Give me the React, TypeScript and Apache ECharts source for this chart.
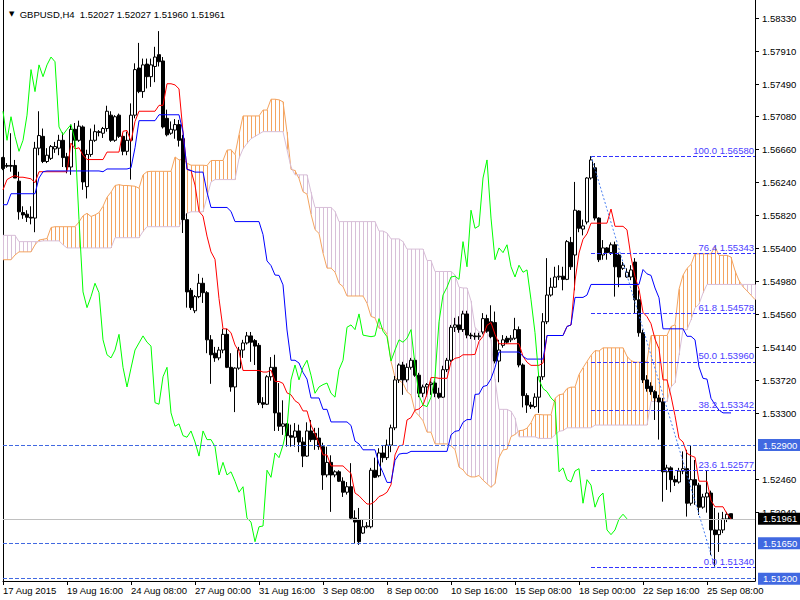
import React, { useEffect, useRef } from "react";
import * as echarts from "echarts";

// ---------- data ----------
const symbolName = "GBPUSD,H4";
const xTickLabels = [
  "17 Aug 2015", "19 Aug 16:00", "24 Aug 08:00", "27 Aug 00:00", "31 Aug 16:00", "3 Sep 08:00",
  "8 Sep 00:00", "10 Sep 16:00", "15 Sep 08:00", "18 Sep 00:00", "22 Sep 16:00", "25 Sep 08:00",
];
const barsPerLabel = 16;
const cloudAheadBars = 6; // visible part of the forward-shifted cloud

const opens = [
  1.5656, 1.5646, 1.5646, 1.5646, 1.5626, 1.5586, 1.5584, 1.558, 1.5579, 1.5668,
  1.5683, 1.5651, 1.5655, 1.5667, 1.5668, 1.5678, 1.5657, 1.5644, 1.5692, 1.5678,
  1.5695, 1.5619, 1.566, 1.5678, 1.5688, 1.5687, 1.5693, 1.571, 1.5678, 1.571,
  1.5683, 1.5664, 1.5678, 1.571, 1.577, 1.574, 1.5775, 1.5759, 1.5772, 1.5787,
  1.5779, 1.5706, 1.5687, 1.5691, 1.5698, 1.568, 1.5577, 1.5487, 1.5461, 1.5479,
  1.5496, 1.5484, 1.5424, 1.5407, 1.5401, 1.5411, 1.5431, 1.5389, 1.5364, 1.5388,
  1.5411, 1.542, 1.5429, 1.5423, 1.5417, 1.5344, 1.5342, 1.5377, 1.5389, 1.5331,
  1.5314, 1.5317, 1.5302, 1.53, 1.5308, 1.5294, 1.5276, 1.5308, 1.5305, 1.5299,
  1.5288, 1.5252, 1.5268, 1.5252, 1.5256, 1.5244, 1.523, 1.5237, 1.5197, 1.5195,
  1.5178, 1.5186, 1.5186, 1.5258, 1.5251, 1.528, 1.5274, 1.529, 1.5312, 1.5373,
  1.5392, 1.5373, 1.5389, 1.5398, 1.5379, 1.5356, 1.5364, 1.5367, 1.5369, 1.5356,
  1.5351, 1.5386, 1.5398, 1.544, 1.5443, 1.5437, 1.5457, 1.543, 1.5429, 1.5428,
  1.5434, 1.5451, 1.5447, 1.5446, 1.5397, 1.5417, 1.5426, 1.5424, 1.5426, 1.5437,
  1.5392, 1.5353, 1.5341, 1.5339, 1.5351, 1.5377, 1.5447, 1.5481, 1.5491, 1.5504,
  1.5505, 1.5501, 1.5548, 1.5532, 1.5588, 1.5565, 1.5574, 1.563, 1.5643, 1.5579,
  1.5532, 1.5541, 1.5535, 1.5545, 1.5532, 1.5515, 1.5504, 1.5504, 1.5523, 1.5475,
  1.5433, 1.5373, 1.5365, 1.5358, 1.535, 1.5345, 1.5256, 1.5261, 1.5246, 1.5243,
  1.5257, 1.526, 1.5216, 1.5246, 1.5239, 1.5211, 1.5224, 1.5229, 1.5182, 1.5176,
  1.5182, 1.5196, 1.52027,
];
const highs = [
  1.5657, 1.5649, 1.5687, 1.5653, 1.5638, 1.5594, 1.5589, 1.5594, 1.5676, 1.5715,
  1.5693, 1.5668, 1.5672, 1.5676, 1.5685, 1.5688, 1.5662, 1.5698, 1.57, 1.5703,
  1.5697, 1.5666, 1.5693, 1.5698, 1.5691, 1.5695, 1.5722, 1.5715, 1.571, 1.5712,
  1.5687, 1.5689, 1.5725, 1.5776, 1.5802, 1.5782, 1.5782, 1.5782, 1.5797, 1.5817,
  1.5784, 1.5717, 1.5702, 1.5705, 1.5704, 1.5685, 1.5585, 1.549, 1.5481, 1.5508,
  1.5503, 1.5486, 1.543, 1.5415, 1.5415, 1.5438, 1.5438, 1.5407, 1.5389, 1.5415,
  1.5424, 1.5434, 1.5434, 1.5425, 1.542, 1.5351, 1.5379, 1.5402, 1.5405, 1.5369,
  1.5347, 1.5318, 1.5316, 1.5318, 1.5316, 1.53, 1.5319, 1.5322, 1.5312, 1.5312,
  1.5293, 1.5288, 1.5277, 1.5258, 1.5258, 1.5249, 1.5243, 1.5267, 1.5207, 1.521,
  1.5195, 1.5192, 1.5261, 1.5274, 1.5286, 1.529, 1.5297, 1.5316, 1.5378, 1.5394,
  1.5396, 1.5394, 1.5401, 1.5401, 1.5382, 1.5367, 1.5369, 1.5372, 1.5372, 1.5363,
  1.5391, 1.5401, 1.5443, 1.5452, 1.5454, 1.5461, 1.5461, 1.5433, 1.5433, 1.5433,
  1.5458, 1.5456, 1.5468, 1.546, 1.5424, 1.543, 1.5429, 1.543, 1.5452, 1.5441,
  1.5394, 1.5356, 1.5345, 1.5356, 1.5382, 1.5458, 1.5528, 1.5503, 1.5517, 1.5519,
  1.5517, 1.5551, 1.5555, 1.5625, 1.5589, 1.5577, 1.5631, 1.5658, 1.5649, 1.558,
  1.5551, 1.5542, 1.5548, 1.5549, 1.5535, 1.5523, 1.5515, 1.5519, 1.5528, 1.5487,
  1.5437, 1.5379, 1.537, 1.536, 1.5354, 1.535, 1.5265, 1.5263, 1.5251, 1.5261,
  1.5282, 1.5284, 1.5289, 1.5271, 1.5242, 1.5228, 1.5258, 1.5232, 1.521, 1.5204,
  1.5205, 1.5205, 1.52027,
];
const lows = [
  1.564, 1.5643, 1.5638, 1.563, 1.5577, 1.5578, 1.5574, 1.5571, 1.5561, 1.5659,
  1.5649, 1.5649, 1.5653, 1.5662, 1.5659, 1.5644, 1.5636, 1.5634, 1.567, 1.5676,
  1.5615, 1.5604, 1.5657, 1.5676, 1.5683, 1.5681, 1.5689, 1.5676, 1.5676, 1.5681,
  1.5659, 1.5659, 1.5628, 1.5706, 1.5738, 1.5732, 1.5744, 1.5746, 1.5752, 1.5772,
  1.5693, 1.5683, 1.5685, 1.568, 1.567, 1.556, 1.5465, 1.5462, 1.5458, 1.5477,
  1.5471, 1.5407, 1.5368, 1.5396, 1.5398, 1.5407, 1.5388, 1.5358, 1.5332, 1.5386,
  1.5401, 1.5418, 1.5396, 1.5392, 1.5341, 1.5337, 1.5341, 1.5372, 1.5308, 1.5308,
  1.5303, 1.5288, 1.5288, 1.5288, 1.5281, 1.5262, 1.5275, 1.5294, 1.5284, 1.5284,
  1.5233, 1.5249, 1.5205, 1.5249, 1.5243, 1.5224, 1.5227, 1.5196, 1.5165, 1.5163,
  1.5177, 1.5184, 1.5184, 1.5248, 1.5249, 1.5268, 1.5271, 1.5281, 1.5309, 1.5369,
  1.5354, 1.537, 1.5386, 1.5377, 1.5351, 1.5351, 1.5352, 1.5354, 1.5351, 1.5349,
  1.535, 1.5383, 1.5396, 1.5434, 1.5433, 1.5434, 1.5426, 1.5425, 1.5424, 1.5424,
  1.5431, 1.5433, 1.5426, 1.5394, 1.537, 1.5414, 1.5419, 1.5421, 1.5424, 1.5389,
  1.5338, 1.5331, 1.5336, 1.5337, 1.5331, 1.5373, 1.5444, 1.5479, 1.549, 1.55,
  1.5487, 1.55, 1.5513, 1.5487, 1.5561, 1.5557, 1.5571, 1.5628, 1.5576, 1.5523,
  1.5526, 1.5526, 1.5532, 1.5479, 1.5491, 1.5513, 1.5503, 1.55, 1.5458, 1.5428,
  1.5369, 1.5358, 1.5354, 1.5322, 1.5297, 1.5218, 1.5233, 1.523, 1.5238, 1.5241,
  1.5253, 1.5199, 1.5213, 1.5214, 1.5201, 1.5209, 1.5204, 1.515, 1.5134, 1.5154,
  1.5178, 1.5192, 1.5196,
];
const closes = [
  1.5642, 1.5645, 1.5645, 1.563, 1.5587, 1.5583, 1.558, 1.5579, 1.5668, 1.5684,
  1.5651, 1.5659, 1.567, 1.567, 1.5678, 1.5656, 1.5644, 1.5692, 1.5678, 1.5696,
  1.5625, 1.566, 1.5678, 1.5689, 1.5689, 1.5693, 1.5715, 1.5678, 1.5708, 1.5683,
  1.5664, 1.5678, 1.571, 1.5768, 1.574, 1.5774, 1.5759, 1.5774, 1.5784, 1.5778,
  1.5695, 1.5685, 1.5692, 1.5698, 1.5678, 1.5577, 1.5485, 1.5465, 1.5479, 1.5496,
  1.5484, 1.5424, 1.5405, 1.5401, 1.5411, 1.5431, 1.5389, 1.5364, 1.5388, 1.5411,
  1.542, 1.5429, 1.5421, 1.5416, 1.5344, 1.5342, 1.5377, 1.5389, 1.5331, 1.5314,
  1.5317, 1.5302, 1.53, 1.5308, 1.5294, 1.5276, 1.5308, 1.5297, 1.5297, 1.5288,
  1.5252, 1.5268, 1.5252, 1.5256, 1.5244, 1.523, 1.5237, 1.5197, 1.5192, 1.5167,
  1.5186, 1.5187, 1.5258, 1.5249, 1.528, 1.5274, 1.529, 1.5312, 1.5373, 1.5392,
  1.5373, 1.5389, 1.5398, 1.5379, 1.5356, 1.5364, 1.5367, 1.5369, 1.5356, 1.5351,
  1.5386, 1.5398, 1.544, 1.5443, 1.5437, 1.5457, 1.543, 1.5429, 1.5428, 1.5429,
  1.5451, 1.5435, 1.5428, 1.5397, 1.5411, 1.5424, 1.5421, 1.5426, 1.5437, 1.5392,
  1.5353, 1.5341, 1.5339, 1.5351, 1.5377, 1.5447, 1.5481, 1.5491, 1.5504, 1.5505,
  1.5501, 1.5549, 1.5517, 1.5589, 1.5566, 1.5569, 1.563, 1.5653, 1.5579, 1.5526,
  1.5541, 1.5535, 1.5545, 1.5517, 1.5504, 1.5519, 1.551, 1.5513, 1.5475, 1.5433,
  1.5373, 1.5362, 1.5358, 1.535, 1.5345, 1.5256, 1.5261, 1.5246, 1.5243, 1.5257,
  1.526, 1.5216, 1.5246, 1.5239, 1.5211, 1.5224, 1.5229, 1.5182, 1.5176, 1.5182,
  1.5196, 1.5202, 1.51961,
];

// Ichimoku values on the left edge, where the indicator needs bars that are off-screen
const tenkanEarly = [1.5615, 1.5628, 1.5631, 1.5633, 1.5631, 1.5631, 1.563, 1.5629];
const kijunEarly = [
  1.5596, 1.5596, 1.561, 1.561, 1.561, 1.561, 1.561, 1.561, 1.561, 1.563, 1.5638,
  1.5639, 1.5639, 1.5639, 1.5639, 1.5639, 1.5639, 1.5639, 1.5639, 1.5639, 1.5639, 1.5639, 1.5639, 1.5639, 1.5639,
];
const spanAEarly = [
  1.5526, 1.5526, 1.5526, 1.5532, 1.5536, 1.5536, 1.5536, 1.5536, 1.5545, 1.5551,
  1.5552, 1.5553, 1.5567, 1.5568, 1.5568, 1.5568, 1.5568, 1.5568, 1.5568, 1.5574,
  1.5582, 1.5585, 1.5581, 1.5583, 1.5586, 1.5594,
];
const spanBEarly = [
  1.5557, 1.5557, 1.5557, 1.5557, 1.5549, 1.5549, 1.5549, 1.5549, 1.5549, 1.5549,
  1.555, 1.555, 1.555, 1.555, 1.555, 1.5545, 1.5541, 1.5541, 1.5541, 1.5541,
  1.5541, 1.5541, 1.5541, 1.5541, 1.5541, 1.5541, 1.5541, 1.5541, 1.5554, 1.5554,
  1.5554, 1.5554, 1.5554, 1.5554, 1.5554, 1.5562, 1.5568, 1.5568, 1.5568, 1.5568,
  1.5568, 1.5568, 1.5568, 1.5568, 1.5568, 1.5579, 1.5585, 1.5587, 1.5587, 1.5587,
  1.5587, 1.5606, 1.5625, 1.5628, 1.5628, 1.5628, 1.5628, 1.5628, 1.5628, 1.5655,
  1.5667, 1.5674, 1.568, 1.5683, 1.5686, 1.5689, 1.5689, 1.5689, 1.5689, 1.5689,
  1.5689, 1.5666, 1.5644, 1.5634, 1.5634, 1.5634, 1.5634,
];
const tenkanPeriod = 9;
const kijunPeriod = 26;
const spanBPeriod = 52;
const ichiShift = 26;

const yTickValues = [
  1.5833, 1.5791, 1.5749, 1.5708, 1.5666, 1.5624, 1.5582, 1.554, 1.5498, 1.5456,
  1.5414, 1.5372, 1.533, 1.5246, 1.5204,
];
const levelLines = [1.529, 1.5165, 1.512];
const fibRatioLabels = ["100.0", "76.4", "61.8", "50.0", "38.2", "23.6", "0.0"];
const fibValues = [1.5658, 1.55343, 1.54578, 1.5396, 1.53342, 1.52577, 1.5134];
const fibHighBar = 147;
const fibLowBar = 178;

const Y_MIN = 1.5117;
const Y_MAX = 1.58566;

// ---------- styling ----------
const FONT = "'Liberation Sans', Arial, sans-serif";
const FS = 9.5;
const UP_KUMO = "#f4a460";
const DOWN_KUMO = "#d8bfd8";
const LEVEL_BLUE = "#4169e1";
const LABEL_BLUE = "#4169e1";
const FIB_BLUE = "#3333ff";
const FIB_TEXT = "#4b3dff";

const r5 = (v: number) => Math.round(v * 100000) / 100000;

export default function App() {
  const ref = useRef<HTMLDivElement>(null);

  useEffect(() => {
    if (!ref.current) return;
    const chart = echarts.init(ref.current, undefined, { renderer: "svg" });

    const n = Math.min(opens.length, highs.length, lows.length, closes.length);
    const total = n + cloudAheadBars;
    const cats = Array.from({ length: total }, (_, i) => String(i));

    const midRange = (from: number, to: number) => {
      let h = -Infinity;
      let l = Infinity;
      for (let k = Math.max(0, from); k <= to; k++) {
        h = Math.max(h, highs[k]);
        l = Math.min(l, lows[k]);
      }
      return (h + l) / 2;
    };

    const tenkan: number[] = [];
    const kijun: number[] = [];
    for (let i = 0; i < n; i++) {
      tenkan.push(r5(i < tenkanPeriod - 1 ? tenkanEarly[i] : midRange(i - tenkanPeriod + 1, i)));
      kijun.push(r5(i < kijunPeriod - 1 ? kijunEarly[i] : midRange(i - kijunPeriod + 1, i)));
    }
    const spanA: number[] = [];
    const spanB: number[] = [];
    for (let j = 0; j < total; j++) {
      spanA.push(r5(j < ichiShift ? spanAEarly[j] : (tenkan[j - ichiShift] + kijun[j - ichiShift]) / 2));
      const lim = ichiShift + spanBPeriod - 1;
      spanB.push(r5(j < lim ? spanBEarly[j] : midRange(j - lim, j - ichiShift)));
    }
    const chikou: number[] = [];
    for (let j = 0; j + ichiShift < n; j++) chikou.push(closes[j + ichiShift]);

    const candles = closes.slice(0, n).map((c, i) => [opens[i], c, lows[i], highs[i]]);
    const kumo = spanA.map((a, j) => [j, a, spanB[j]]);

    const last = n - 1;
    const lastClose = closes[last];
    const fmt = (v: number) => v.toFixed(5);

    const boxLabel = (text: string, bg: string) => ({
      show: true,
      position: "end",
      formatter: text,
      color: "#ffffff",
      backgroundColor: bg,
      padding: [1, 3, 0, 5],
      lineHeight: 11,
      distance: 3,
      fontSize: FS,
      fontFamily: FONT,
    });

    const markData: any[] = [];
    levelLines.forEach((v) => {
      markData.push({
        yAxis: v,
        lineStyle: { color: LEVEL_BLUE, type: [4, 2], width: 1, opacity: 1 },
        label: boxLabel(fmt(v), LABEL_BLUE),
      });
    });
    markData.push({
      yAxis: lastClose,
      lineStyle: { color: "#c0c0c0", type: "solid", width: 1, opacity: 1 },
      label: boxLabel(fmt(lastClose), "#000000"),
    });
    fibValues.forEach((v, k) => {
      markData.push([
        {
          coord: [fibHighBar, v],
          lineStyle: { color: FIB_BLUE, type: [4, 2], width: 1, opacity: 1 },
          label: {
            show: true,
            position: "insideEndTop",
            formatter: `${fibRatioLabels[k]} ${fmt(v)}`,
            color: FIB_TEXT,
            fontSize: FS,
            fontFamily: FONT,
            distance: 1,
          },
        },
        { coord: [total - 1, v] },
      ]);
    });
    markData.push([
      {
        coord: [fibHighBar, fibValues[0]],
        lineStyle: { color: "#4a7ff0", type: [2, 2], width: 1, opacity: 1 },
        label: { show: false },
      },
      { coord: [fibLowBar, fibValues[fibValues.length - 1]] },
    ]);

    const showTick = (i: number) => i % barsPerLabel === 0 && i / barsPerLabel < xTickLabels.length;

    const option: any = {
      animation: false,
      backgroundColor: "#ffffff",
      textStyle: { fontFamily: FONT },
      title: {
        text: `{tri|▼}  ${symbolName}  ${fmt(opens[last])} ${fmt(highs[last])} ${fmt(lows[last])} ${fmt(lastClose)}`,
        left: 4,
        top: 4,
        textStyle: {
          fontSize: FS,
          fontWeight: "normal",
          color: "#000000",
          fontFamily: FONT,
          rich: { tri: { fontSize: 7, color: "#000000", fontFamily: "'DejaVu Sans', sans-serif" } },
        },
      },
      grid: { left: 3, right: 45, top: 0, bottom: 19, containLabel: false },
      xAxis: {
        type: "category",
        data: cats,
        boundaryGap: false,
        axisLine: { show: true, lineStyle: { color: "#000000", width: 1 } },
        axisTick: { show: true, interval: (i: number) => showTick(i), length: 4, lineStyle: { color: "#000000" } },
        axisLabel: {
          interval: (i: number) => showTick(i),
          formatter: (_v: string, i: number) => (showTick(i) ? xTickLabels[i / barsPerLabel] : ""),
          align: "left",
          margin: 4,
          color: "#000000",
          fontSize: FS,
          fontFamily: FONT,
        },
        splitLine: { show: false },
      },
      yAxis: [
        {
          type: "value",
          position: "right",
          min: Y_MIN,
          max: Y_MAX,
          scale: true,
          axisLine: { show: true, lineStyle: { color: "#000000", width: 1 } },
          axisTick: { show: true, customValues: yTickValues, length: 4, lineStyle: { color: "#000000" } },
          axisLabel: {
            customValues: yTickValues,
            formatter: (v: number) => v.toFixed(5),
            margin: 7,
            color: "#000000",
            fontSize: FS,
            fontFamily: FONT,
          },
          splitLine: { show: false },
        },
        {
          type: "value",
          position: "left",
          min: Y_MIN,
          max: Y_MAX,
          scale: true,
          axisLine: { show: true, lineStyle: { color: "#000000", width: 1 } },
          axisTick: { show: false },
          axisLabel: { show: false },
          splitLine: { show: false },
        },
      ],
      series: [
        {
          name: "Kumo",
          type: "custom",
          data: kumo,
          encode: { x: 0, y: [1, 2] },
          z: 1,
          silent: true,
          renderItem: (_p: any, api: any) => {
            const j = api.value(0);
            const a = api.value(1);
            const b = api.value(2);
            const p1 = api.coord([j, a]);
            const p2 = api.coord([j, b]);
            const x = Math.round(p1[0]) + 0.5;
            return {
              type: "line",
              shape: { x1: x, y1: p1[1], x2: x, y2: p2[1] },
              style: { stroke: a >= b ? UP_KUMO : DOWN_KUMO, lineWidth: 1 },
            };
          },
        },
        {
          name: "Senkou Span A",
          type: "line",
          data: spanA,
          symbol: "none",
          z: 2,
          silent: true,
          lineStyle: { color: UP_KUMO, width: 1 },
        },
        {
          name: "Senkou Span B",
          type: "line",
          data: spanB,
          symbol: "none",
          z: 2,
          silent: true,
          lineStyle: { color: DOWN_KUMO, width: 1 },
        },
        {
          name: symbolName,
          type: "candlestick",
          data: candles,
          barWidth: 3,
          z: 3,
          silent: true,
          itemStyle: {
            color: "#ffffff",
            color0: "#000000",
            borderColor: "#000000",
            borderColor0: "#000000",
            borderWidth: 1,
          },
          markLine: {
            silent: true,
            symbol: ["none", "none"],
            animation: false,
            precision: 5,
            lineStyle: { color: LEVEL_BLUE, type: [4, 2], width: 1, opacity: 1 },
            data: markData,
          },
        },
        {
          name: "Tenkan-sen",
          type: "line",
          data: tenkan,
          symbol: "none",
          z: 4,
          silent: true,
          lineStyle: { color: "#ff0000", width: 1 },
        },
        {
          name: "Kijun-sen",
          type: "line",
          data: kijun,
          symbol: "none",
          z: 4,
          silent: true,
          lineStyle: { color: "#0000ff", width: 1 },
        },
        {
          name: "Chikou Span",
          type: "line",
          data: chikou,
          symbol: "none",
          z: 4,
          silent: true,
          lineStyle: { color: "#00ff00", width: 1 },
        },
      ],
    };

    chart.setOption(option);
    return () => chart.dispose();
  }, []);

  return (
    <div
      ref={ref}
      style={{ position: "fixed", left: 0, top: 0, width: 800, height: 600, background: "#ffffff" }}
    />
  );
}
